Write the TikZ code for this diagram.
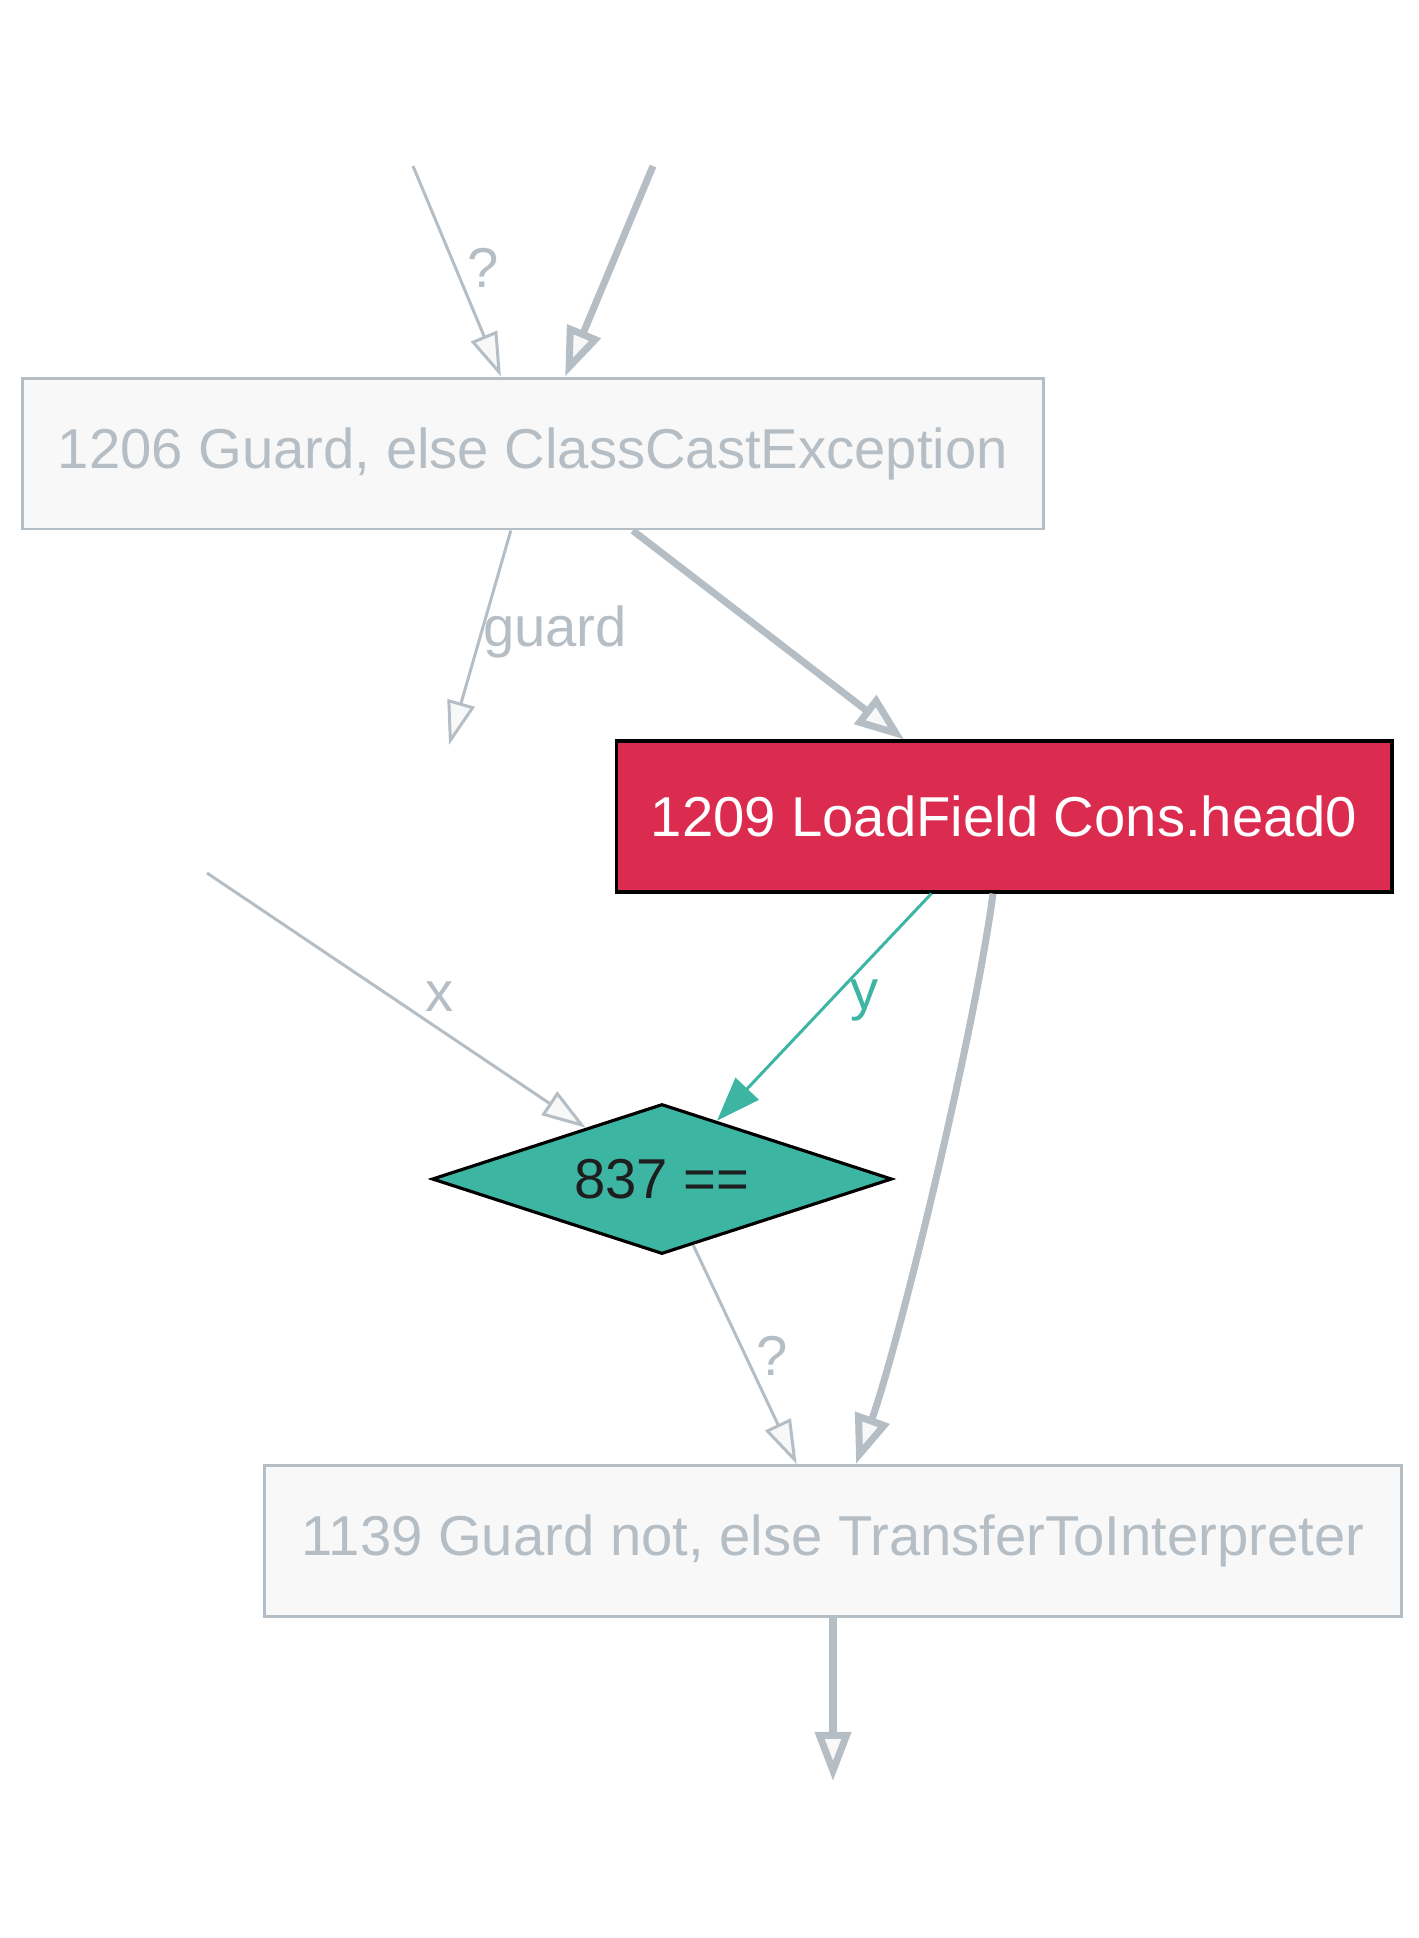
\documentclass[tikz,border=0pt]{standalone}
\usepackage{fontspec}
\setmainfont{Liberation Sans}
\usepackage{tikz}
\usetikzlibrary{arrows.meta,shapes.geometric,calc}
\definecolor{edgegray}{HTML}{B5BDC5}
\definecolor{boxfill}{HTML}{F8F8F8}
\definecolor{loadred}{HTML}{DB2C50}
\definecolor{cmpteal}{HTML}{3DB5A3}
\definecolor{inkdark}{HTML}{1E1E1E}
\tikzset{
  every picture/.style={font=\fontsize{32}{38}\selectfont},
  graynode/.style={draw=edgegray, fill=boxfill, text=edgegray, line width=1.7pt, minimum height=3.02cm, inner sep=0pt},
  loadnode/.style={draw=black, fill=loadred, text=white, line width=1.8pt, minimum height=3.02cm, inner sep=0pt},
  cmpnode/.style={diamond, aspect=3, draw=black, fill=cmpteal, text=inkdark, line width=1.8pt, minimum width=9.2cm, minimum height=3.0cm, inner sep=0pt},
  thinedge/.style={draw=edgegray, line width=1.7pt, -{Triangle[length=25pt,width=16pt,fill=boxfill]}},
  thickedge/.style={draw=edgegray, line width=4pt, -{Triangle[length=28pt,width=20pt,fill=boxfill]}},
  dataedge/.style={draw=cmpteal, line width=1.7pt, -{Triangle[length=25pt,width=18pt]}},
  edgelabel/.style={text=edgegray, inner sep=0pt},
}

\begin{document}
\begin{tikzpicture}[x=0.02cm,y=-0.02cm]
\useasboundingbox (0,0) rectangle (1419,1938);
\node[graynode, minimum width=20.44cm] (n1206) at (533,453.5) {1206 Guard, else ClassCastException};
\node[loadnode, minimum width=15.52cm] (n1209) at (1004,816.5) {1209 LoadField Cons.head0};
\node[cmpnode] (n837) at (662,1179) {837 ==};
\node[graynode, minimum width=22.76cm] (n1139) at (833,1541) {1139 Guard not, else TransferToInterpreter};
\coordinate (src1) at (413,166);
\coordinate (src2) at (653,166);
\coordinate (guardout) at (449,745);
\coordinate (srcx) at (207,873);
\coordinate (sink) at (833,1781);
\draw[thinedge] (src1) -- (n1206);
\draw[thickedge] (src2) -- (n1206);
\draw[thinedge] (n1206) -- (guardout);
\draw[thickedge] (n1206) -- (n1209);
\draw[thinedge] (srcx) -- (n837);
\draw[dataedge] (n1209) -- (n837);
\draw[thickedge] ($(n1209.south)+(-11,0)$) .. controls (975,1030) and (900,1340) .. ($(n1139.north)+(23,0)$);
\draw[thinedge] (n837) -- (n1139);
\draw[thickedge] (n1139) -- (sink);
\node[edgelabel] (lblq1) at (483,268) {?};
\node[edgelabel] (lblguard) at (555,632) {guard};
\node[edgelabel] (lblx) at (440,997) {x};
\node[edgelabel, text=cmpteal] (lbly) at (865,1000) {y};
\node[edgelabel] (lblq2) at (772,1356) {?};
\end{tikzpicture}
\end{document}
